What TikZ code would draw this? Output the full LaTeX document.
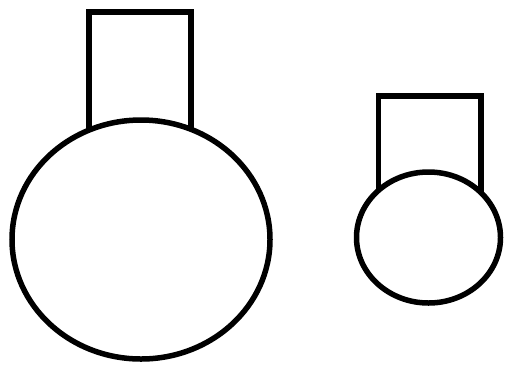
\documentclass[tikz,border=0pt]{standalone}
\begin{document}
\begin{tikzpicture}[x=1pt,y=-1pt,
  outline/.style={draw=black,line width=5.5pt,fill=white}]
\useasboundingbox (0,0) rectangle (505,365);
\fill[white] (0,0) rectangle (505,365);
% left figure
\draw[outline] (89,160) -- (89,12) -- (191,12) -- (191,160);
\draw[outline] (141,239.5) ellipse [x radius=129, y radius=119.5];
% right figure
\draw[outline] (378.5,200) -- (378.5,96) -- (481,96) -- (481,200);
\draw[outline] (428.5,237.5) ellipse [x radius=72, y radius=65.5];
\end{tikzpicture}
\end{document}
